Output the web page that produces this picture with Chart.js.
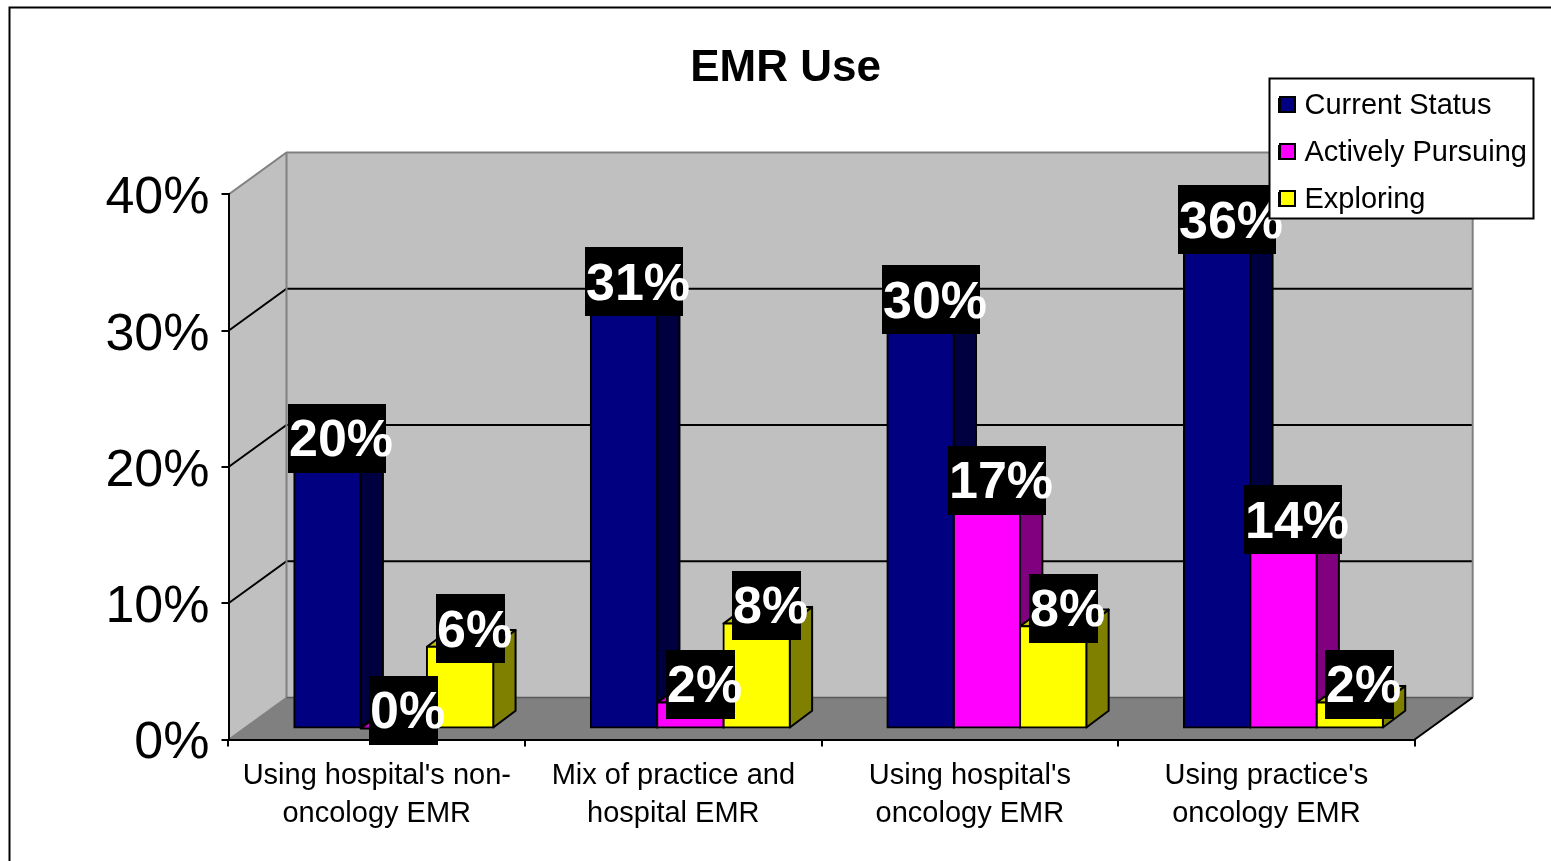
<!DOCTYPE html>
<html>
<head>
<meta charset="utf-8">
<style>html,body{margin:0;padding:0;background:#fff}canvas{display:block}</style>
<script src="https://cdn.jsdelivr.net/npm/chart.js@4"></script>
</head>
<body>
<canvas id="c" width="1551" height="861"></canvas>
<script>
const categories = [["Using hospital's non-","oncology EMR"],["Mix of practice and","hospital EMR"],["Using hospital's","oncology EMR"],["Using practice's","oncology EMR"]];
const currentStatus = [20, 31.45, 30.15, 36];
const activelyPursuing = [0, 1.9, 16.9, 14];
const exploring = [6, 7.7, 7.5, 1.9];
const yTicks = [0, 10, 20, 30, 40];

const FONT = "'Liberation Sans', Arial, sans-serif";
const WALL = {dx: 58, dy: -42};
const BAR_SHIFT = {x: 17, y: -11};
const BAR_DEPTH = {dx: 22.3, dy: -16.7};
const shades = {
  '#000080': {side: '#000040', top: '#000060'},
  '#ff00ff': {side: '#800080', top: '#bf00bf'},
  '#ffff00': {side: '#808000', top: '#bfbf00'}
};

function line(ctx, pts, color, w) {
  ctx.beginPath();
  pts.forEach((p, i) => i ? ctx.lineTo(p[0], p[1]) : ctx.moveTo(p[0], p[1]));
  ctx.strokeStyle = color; ctx.lineWidth = w; ctx.lineCap = 'butt'; ctx.stroke();
}
function poly(ctx, pts, fill, stroke, w) {
  ctx.beginPath();
  pts.forEach((p, i) => i ? ctx.lineTo(p[0], p[1]) : ctx.moveTo(p[0], p[1]));
  ctx.closePath();
  ctx.fillStyle = fill; ctx.fill();
  if (stroke) { ctx.strokeStyle = stroke; ctx.lineWidth = w; ctx.lineJoin = 'round'; ctx.stroke(); }
}

const scene = {
  id: 'scene',
  beforeDraw(chart) {
    const ctx = chart.ctx, x = chart.scales.x, y = chart.scales.y;
    const items = y.getLabelItems(chart.chartArea);
    if (!items._shifted) { items.forEach(it => { it.options.translation[1] += 4.5; }); items._shifted = true; }
    const L = x.left, R = x.right, y0 = y.getPixelForValue(0), yT = y.getPixelForValue(40);
    const bL = L + WALL.dx, bR = R + WALL.dx, by0 = y0 + WALL.dy, byT = yT + WALL.dy;
    ctx.save();
    ctx.fillStyle = '#fff'; ctx.fillRect(0, 0, chart.width, chart.height);
    line(ctx, [[9.5, 861], [9.5, 7.5], [1551, 7.5]], '#000', 2);
    poly(ctx, [[L, y0], [bL, by0], [bL, byT], [L, yT]], '#c0c0c0');
    poly(ctx, [[bL, by0], [bR, by0], [bR, byT], [bL, byT]], '#c0c0c0');
    poly(ctx, [[L, y0], [R, y0], [bR, by0], [bL, by0]], '#808080');
    yTicks.slice(1, -1).forEach(v => {
      const p = y.getPixelForValue(v);
      line(ctx, [[L, p], [bL, p + WALL.dy], [bR, p + WALL.dy]], '#000', 2);
    });
    line(ctx, [[L, yT], [bL, byT], [bR, byT], [bR, by0]], '#808080', 2);
    line(ctx, [[bL, byT], [bL, by0]], '#808080', 2);
    line(ctx, [[bL, by0], [bR, by0]], '#5a5a5a', 1.5);
    line(ctx, [[L, y0], [bL, by0]], '#808080', 1.5);
    line(ctx, [[R, y0], [bR, by0]], '#000', 2);
    ctx.restore();
  },
  beforeDatasetsDraw(chart) {
    const ctx = chart.ctx;
    ctx.save();
    ctx.translate(BAR_SHIFT.x, BAR_SHIFT.y);
    chart.data.datasets.forEach((ds, i) => {
      const s = shades[ds.backgroundColor];
      chart.getDatasetMeta(i).data.forEach(el => {
        const l = el.x - el.width / 2, r = el.x + el.width / 2, t = el.y, b = el.base;
        const d = BAR_DEPTH;
        poly(ctx, [[r, t], [r + d.dx, t + d.dy], [r + d.dx, b + d.dy], [r, b]], s.side, '#000', 2);
        poly(ctx, [[l, t], [r, t], [r + d.dx, t + d.dy], [l + d.dx, t + d.dy]], s.top, '#000', 2);
      });
    });
    ctx.restore();
  },
  beforeDatasetDraw(chart) {
    chart.ctx.save();
    chart.ctx.translate(BAR_SHIFT.x, BAR_SHIFT.y);
  },
  afterDatasetDraw(chart) { chart.ctx.restore(); },
  afterDatasetsDraw(chart) {
    const ctx = chart.ctx;
    ctx.save();
    ctx.font = 'bold 52px ' + FONT;
    ctx.textAlign = 'left';
    ctx.textBaseline = 'middle';
    chart.data.datasets.forEach((ds, i) => {
      chart.getDatasetMeta(i).data.forEach((el, j) => {
        const txt = Math.round(ds.data[j]) + '%';
        const bw = txt.length === 3 ? 98 : 69, bh = 69;
        const cx = el.x + BAR_SHIFT.x + 10;
        const cy = el.y + BAR_SHIFT.y - 18;
        ctx.fillStyle = '#000';
        ctx.fillRect(Math.round(cx - bw / 2), Math.round(cy - bh / 2), bw, bh);
        ctx.fillStyle = '#fff';
        ctx.fillText(txt, Math.round(cx - bw / 2) + 1, cy + 3.5);
      });
    });
    ctx.restore();
  },
  beforeLayout(chart) {
    const lg = chart.legend;
    if (lg) lg._layers = () => [{z: 10, draw() {
      const ctx = chart.ctx;
      ctx.save();
      ctx.fillStyle = '#fff'; ctx.fillRect(1269.5, 78.5, 264, 140);
      ctx.strokeStyle = '#000'; ctx.lineWidth = 2; ctx.strokeRect(1269.5, 78.5, 264, 140);
      ctx.restore();
      lg.draw();
      ctx.save();
      chart.data.datasets.forEach((ds, i) => {
        const yy = 97 + 47 * i;
        ctx.fillStyle = ds.backgroundColor;
        ctx.strokeStyle = '#000'; ctx.lineWidth = 2;
        ctx.fillRect(1280, yy, 15, 15); ctx.strokeRect(1280, yy, 15, 15);
      });
      ctx.restore();
    }}];
  },
  afterLayout(chart) {
    const lg = chart.legend;
    if (lg) { lg.left = 1261; lg.right = 1540; lg.top = 73; lg.bottom = 300; lg.width = 279; lg.height = 227; }
    const tb = chart.titleBlock;
    if (tb) { tb.left = 20; tb.right = 1551; tb.width = 1531; }
  }
};

new Chart(document.getElementById('c'), {
  type: 'bar',
  plugins: [scene],
  data: {
    labels: categories,
    datasets: [
      {label: 'Current Status', data: currentStatus, backgroundColor: '#000080'},
      {label: 'Actively Pursuing', data: activelyPursuing, backgroundColor: '#ff00ff'},
      {label: 'Exploring', data: exploring, backgroundColor: '#ffff00'}
    ].map(d => Object.assign(d, {borderColor: '#000', borderWidth: 2, borderSkipped: false, inflateAmount: 1, clip: false}))
  },
  options: {
    responsive: false,
    animation: false,
    devicePixelRatio: 1,
    events: [],
    layout: {padding: {left: 60, right: 136.3, top: 42.6, bottom: 0}, autoPadding: false},
    datasets: {bar: {categoryPercentage: 0.671, barPercentage: 1}},
    scales: {
      x: {
        offset: true,
        afterFit(s) { s.height = 121.5; },
        grid: {offset: true, drawOnChartArea: false, drawTicks: true, tickLength: 7, color: '#000', lineWidth: 2},
        border: {color: '#000', width: 2},
        ticks: {autoSkip: false, maxRotation: 0, minRotation: 0, padding: 11, color: '#000',
                font: {family: FONT, size: 29, lineHeight: 1.3}}
      },
      y: {
        min: 0, max: 40,
        afterFit(s) { s.width = 168.5; },
        afterBuildTicks(s) { s.ticks = yTicks.map(v => ({value: v})); },
        grid: {drawOnChartArea: false, drawTicks: true, tickLength: 7, color: '#000', lineWidth: 2},
        border: {color: '#000', width: 2},
        ticks: {padding: 12, color: '#000', font: {family: FONT, size: 52}, callback: v => v + '%'}
      }
    },
    plugins: {
      tooltip: {enabled: false},
      title: {display: true, text: 'EMR Use', color: '#000', font: {family: FONT, size: 44, weight: 'bold', lineHeight: 1.2},
              padding: {top: 0, bottom: 99.1}},
      legend: {
        display: true, position: 'chartArea', align: 'start',
        labels: {color: '#000', boxWidth: 11, boxHeight: 13, padding: 18,
                 font: {family: FONT, size: 29}}
      }
    }
  }
});
</script>
</body>
</html>
